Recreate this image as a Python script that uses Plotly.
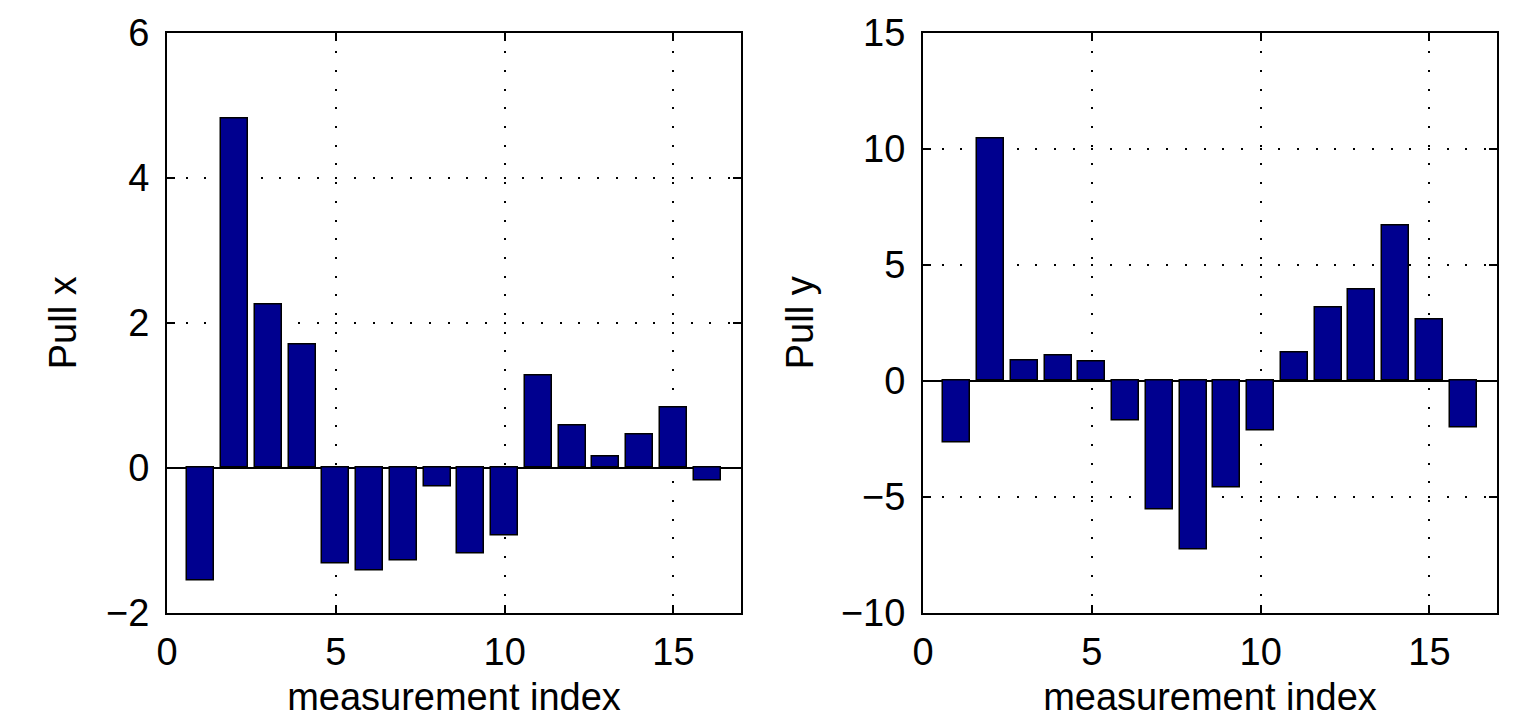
import plotly.graph_objects as go
from plotly.subplots import make_subplots

# Measurement indices and pull values for each coordinate
index = list(range(1, 17))
pull_x = [-1.55, 4.81, 2.25, 1.70, -1.32, -1.41, -1.28, -0.25,
          -1.18, -0.93, 1.27, 0.59, 0.16, 0.46, 0.83, -0.17]
pull_y = [-2.65, 10.43, 0.86, 1.09, 0.83, -1.69, -5.54, -7.28,
          -4.61, -2.13, 1.23, 3.15, 3.92, 6.68, 2.63, -2.02]

x_ticks = [0, 5, 10, 15]
y_ticks_left = [-2, 0, 2, 4, 6]
y_ticks_right = [-10, -5, 0, 5, 10, 15]

bar_color = "rgb(0,0,143)"
font_family = "Liberation Sans, Arial, Helvetica, sans-serif"
font_size = 38

fig = make_subplots(rows=1, cols=2)

for col, vals in ((1, pull_x), (2, pull_y)):
    fig.add_trace(
        go.Bar(x=index, y=vals, width=0.8, marker_color=bar_color,
               marker_line_color="black", marker_line_width=1.5,
               showlegend=False),
        row=1, col=col,
    )

axis_common = dict(
    showline=True, linecolor="black", linewidth=2, mirror="ticks",
    ticks="inside", ticklen=8, tickwidth=2, tickcolor="black",
    showgrid=True, gridcolor="black", gridwidth=1.5, griddash="2px,16.7px",
    tickfont=dict(family=font_family, size=font_size, color="black"),
    automargin=False,
)
title_font = dict(family=font_family, size=font_size, color="black")

fig.update_xaxes(range=[0, 17], tickvals=x_ticks, zeroline=False,
                 title=dict(text="measurement index", font=title_font, standoff=12),
                 ticklabelstandoff=4,
                 **axis_common)
fig.update_yaxes(zeroline=True, zerolinecolor="black", zerolinewidth=2,
                 ticklabelstandoff=8, **axis_common)

fig.update_yaxes(range=[-2, 6], tickvals=y_ticks_left,
                 title=dict(text="Pull x", font=title_font, standoff=18),
                 row=1, col=1)
fig.update_yaxes(range=[-10, 15], tickvals=y_ticks_right,
                 title=dict(text="Pull y", font=title_font, standoff=16),
                 row=1, col=2)

# Place the two panels
fig.update_layout(
    xaxis=dict(domain=[167 / 1536, 741 / 1536]),
    xaxis2=dict(domain=[923 / 1536, 1497 / 1536]),
    yaxis=dict(domain=[1 - 613 / 721, 1 - 32.5 / 721]),
    yaxis2=dict(domain=[1 - 613 / 721, 1 - 32.5 / 721]),
    width=1536, height=721,
    margin=dict(l=0, r=0, t=0, b=0),
    paper_bgcolor="white", plot_bgcolor="white",
    font=dict(family=font_family, color="black"),
    bargap=0,
)

fig.write_html("out.html")
